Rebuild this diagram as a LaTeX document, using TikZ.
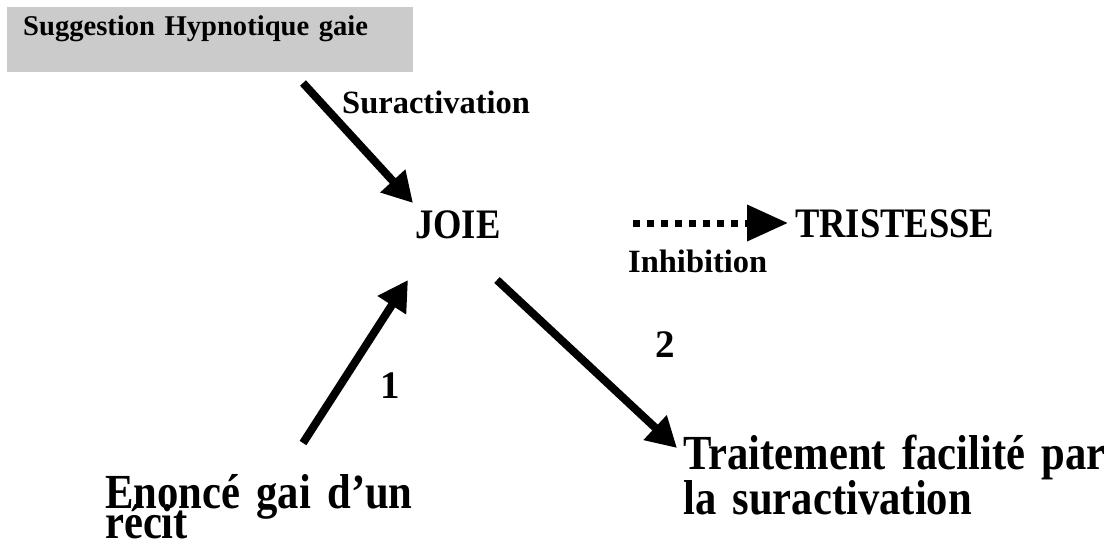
\documentclass[tikz,border=0pt]{standalone}
\usepackage{fontspec}
\setmainfont{Liberation Serif}
\newfontfamily\tallfont{Liberation Serif}[FakeStretch=0.87]
\usetikzlibrary{arrows.meta}
\definecolor{boxgray}{HTML}{CBCBCB}

\begin{document}
\begin{tikzpicture}[x=1pt, y=-1pt,
	box/.style={fill=boxgray, anchor=north west, inner xsep=16pt, inner ysep=0pt,
		text width=374pt, align=left, text height=28pt, text depth=37pt,
		font=\fontsize{28.6}{32}\selectfont\bfseries},
	emo/.style={anchor=base west, inner sep=0pt, font=\tallfont\fontsize{42}{46}\selectfont\bfseries},
	lab/.style={anchor=base west, inner sep=0pt, font=\fontsize{32.5}{36}\selectfont\bfseries},
	num/.style={anchor=base, inner sep=0pt, font=\fontsize{39}{42}\selectfont\bfseries},
	big/.style={anchor=base west, inner sep=0pt, align=left, font=\tallfont\fontsize{49}{40}\selectfont\bfseries},
	arr/.style={-{Triangle[length=30pt, width=32pt]}, line width=8pt},
	dots/.style={-{Triangle[length=41pt, width=35pt]}, line width=7pt, dash pattern=on 7pt off 7pt}]
	\useasboundingbox (0,0) rectangle (1108,544);

	\node [box] (sugg) at (7,7) {Suggestion Hypnotique gaie};
	\node [emo] (joie) at (415,238) {JOIE};
	\node [emo] (trist) at (795,237) {TRISTESSE};
	\node [lab] (surac) at (342,113) {Suractivation};
	\node [lab] (inhib) at (628,272) {Inhibition};
	\node [num] (un) at (390,398) {1};
	\node [num] (deux) at (665,357) {2};
	\node [big, text width=360pt] (enonce) at (105,508)
		{Enoncé gai d’un\\[-15pt]récit};
	\node [big, text width=425pt] (trait) at (683,469)
		{Traitement facilité par\\la suractivation};

	\coordinate (s1) at (303,83);
	\coordinate (t1) at (413,203);
	\coordinate (s2) at (303,443);
	\coordinate (t2) at (408,280);
	\coordinate (s3) at (497,280);
	\coordinate (t3) at (677,448);
	\coordinate (s4) at (633,223);
	\coordinate (t4) at (788,223);

	\path[arr] (s1) edge (t1);
	\path[arr] (s2) edge (t2);
	\path[arr] (s3) edge (t3);
	\path[dots] (s4) edge (t4);
\end{tikzpicture}
\end{document}
